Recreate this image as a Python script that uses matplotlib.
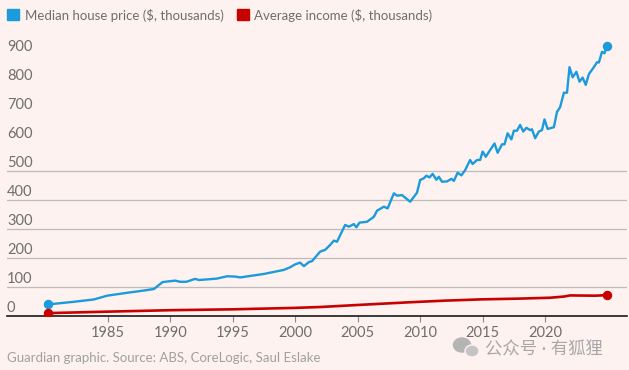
import matplotlib.pyplot as plt
from matplotlib.patches import Rectangle, Ellipse

# Median house price ($, thousands)
house_years = [1980.25, 1982.3, 1983.9, 1984.95, 1986.55, 1987.6, 1988.7, 1989.4, 1990.4, 1990.8,
               1991.3, 1992.0, 1992.3, 1993.75, 1994.55, 1995.2, 1995.6, 1996.4, 1997.5, 1998.3,
               1999.1, 1999.6, 2000.0, 2000.4, 2000.7, 2001.1, 2001.35, 2002.0, 2002.4, 2002.8,
               2003.1, 2003.35, 2004.0, 2004.3, 2004.7, 2004.9, 2005.15, 2005.75, 2006.3, 2006.55,
               2007.1, 2007.4, 2007.9, 2008.15, 2008.55, 2009.2, 2009.5, 2009.75, 2010.0, 2010.3,
               2010.5, 2010.75, 2011.0, 2011.3, 2011.5, 2011.75, 2012.15, 2012.5, 2012.7, 2013.0,
               2013.3, 2013.6, 2014.0, 2014.2, 2014.55, 2014.8, 2015.0, 2015.25, 2015.55, 2015.95,
               2016.2, 2016.55, 2016.75, 2017.0, 2017.3, 2017.5, 2017.75, 2018.0, 2018.25, 2018.5,
               2018.8, 2018.95, 2019.2, 2019.5, 2019.75, 2019.95, 2020.2, 2020.7, 2020.95, 2021.2,
               2021.5, 2021.75, 2021.95, 2022.2, 2022.5, 2022.75, 2023.0, 2023.25, 2023.5, 2023.9,
               2024.15, 2024.3, 2024.55, 2024.75, 2024.95]
house_price = [40, 49, 57, 70, 80, 86, 93, 117, 122, 118,
               118, 128, 124, 129, 137, 136, 133, 138, 145, 152,
               159, 168, 178, 184, 172, 186, 189, 222, 228, 245,
               260, 256, 314, 308, 317, 306, 322, 325, 342, 363,
               377, 371, 423, 415, 417, 394, 411, 425, 469, 475,
               484, 478, 490, 470, 480, 463, 464, 473, 466, 494,
               485, 503, 538, 524, 538, 538, 567, 549, 569, 595,
               563, 592, 592, 630, 609, 639, 639, 659, 636, 649,
               641, 644, 613, 636, 641, 678, 645, 651, 704, 720,
               770, 770, 858, 823, 842, 808, 822, 797, 834, 858,
               875, 874, 911, 906, 931]

# Average income ($, thousands)
income_years = [1980.25, 1985, 1990, 1995, 2000, 2002, 2005, 2009, 2012, 2015,
                2018, 2020.4, 2021.5, 2022, 2024, 2024.95]
income = [10, 15, 20, 23, 28, 31, 38, 47, 53, 57.5,
          60, 63, 67, 71, 70, 72]

x_ticks = [1985, 1990, 1995, 2000, 2005, 2010, 2015, 2020]
y_labels = [0, 100, 200, 300, 400, 500, 600, 700, 800, 900]
grid_values = [100, 200, 300, 400, 500]

BG = "#fdf2f0"
BLUE = "#1b9bdb"
RED = "#c70000"
W, H = 629, 370

plt.rcParams["font.family"] = ["Lato", "Noto Sans CJK SC", "DejaVu Sans"]

fig = plt.figure(figsize=(W / 100, H / 100), dpi=100, facecolor=BG)
ax = fig.add_axes([7 / W, 54 / H, 620 / W, 290 / H])
ax.set_facecolor(BG)
ax.set_xlim(1976.95, 2026.55)
ax.set_ylim(0, 1000)

for v in grid_values:
    ax.axhline(v, color="#bcbcbc", lw=0.9, zorder=1)

for v in y_labels:
    ax.annotate(str(v), xy=(0, v), xycoords=ax.get_yaxis_transform(),
                xytext=(0, 3), textcoords="offset points",
                ha="left", va="baseline", fontsize=10.5, color="#6e6e6e")

ax.plot(house_years, house_price, color=BLUE, lw=1.7, zorder=3)
ax.plot(income_years, income, color=RED, lw=1.9, zorder=3)
ax.plot([house_years[0], house_years[-1]], [house_price[0], house_price[-1]],
        "o", color=BLUE, ms=5.8, zorder=4)
ax.plot([income_years[0], income_years[-1]], [income[0], income[-1]],
        "o", color=RED, ms=5.8, zorder=4)

for s in ["top", "right", "left"]:
    ax.spines[s].set_visible(False)
ax.spines["bottom"].set_color("#1a1a1a")
ax.spines["bottom"].set_linewidth(1.2)
ax.set_yticks([])
ax.set_xticks(x_ticks)
ax.tick_params(axis="x", length=4, width=0.8, color="#888888", pad=3.5,
               labelsize=10.5, labelcolor="#6e6e6e")

# legend
fig.patches.append(Rectangle((7 / W, 1 - 20 / H), 12 / W, 11 / H,
                             transform=fig.transFigure, color=BLUE))
fig.text(25 / W, 1 - 15 / H, "Median house price ($, thousands)",
         ha="left", va="center", fontsize=9.5, color="#6e6e6e")
fig.patches.append(Rectangle((237 / W, 1 - 20 / H), 12 / W, 11 / H,
                             transform=fig.transFigure, color=RED))
fig.text(254 / W, 1 - 15 / H, "Average income ($, thousands)",
         ha="left", va="center", fontsize=9.5, color="#6e6e6e")

# source line
fig.text(7 / W, 1 - 358 / H, "Guardian graphic. Source: ABS, CoreLogic, Saul Eslake",
         ha="left", va="center", fontsize=9.5, color="#a0a0a0")

# watermark
fig.patches.append(Ellipse((462 / W, 1 - 345 / H), 17 / W, 14 / H,
                           transform=fig.transFigure, color="#b4b4b4"))
fig.patches.append(Ellipse((472 / W, 1 - 351 / H), 14 / W, 12 / H,
                           transform=fig.transFigure, color="#c4c4c4", ec=BG, lw=1))
fig.text(485 / W, 1 - 349 / H, "公众号 · 有狐狸",
         ha="left", va="center", fontsize=12.5, color="#a8a8a8")

fig.savefig("out.png", dpi=100, facecolor=BG)
